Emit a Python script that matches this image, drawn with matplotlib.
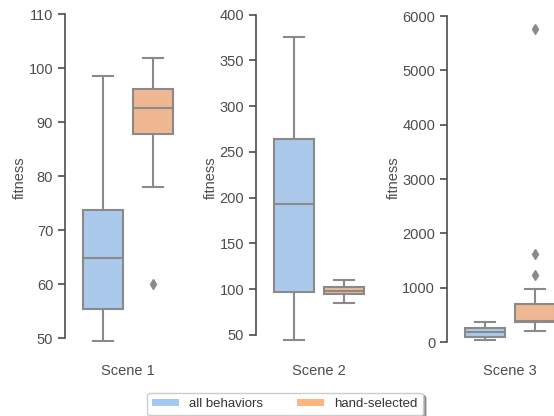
import matplotlib
matplotlib.use('Agg')
import matplotlib.pyplot as plt
from matplotlib.patches import Patch
import seaborn as sns

# box summary stats: (whislo, q1, med, q3, whishi, fliers)
scenes = ['Scene 1', 'Scene 2', 'Scene 3']
groups = ['all behaviors', 'hand-selected']

all_behaviors = [
    (49.4, 55.3, 64.9, 73.7, 98.5, []),
    (44.2, 97.3, 193.0, 264.5, 375.2, []),
    (42, 92, 178, 263, 374, []),
]
hand_selected = [
    (78.0, 87.7, 92.6, 96.2, 101.8, [60.0]),
    (85.3, 94.4, 98.3, 102.0, 110.3, []),
    (208, 362, 386, 694, 975, [1233, 1620, 5754]),
]

ylims = [(49.26, 110), (42.35, 400.7), (0, 6037)]
yticks = [[50, 60, 70, 80, 90, 100, 110],
          [50, 100, 150, 200, 250, 300, 350, 400],
          [0, 1000, 2000, 3000, 4000, 5000, 6000]]

pal = sns.color_palette('pastel')
colors = [pal[0], pal[1]]
box_colors = [sns.desaturate(c, 0.75) for c in colors]
gray = '#8a8a8a'

plt.rcParams['font.family'] = ['Liberation Sans', 'DejaVu Sans']
plt.rcParams['font.size'] = 10.5

fig = plt.figure(figsize=(5.54, 4.16), dpi=100)
W, H = 554, 416
lefts = [65, 256, 447]

for i, scene in enumerate(scenes):
    ax = fig.add_axes([lefts[i] / W, (H - 342) / H, 125 / W, 328 / H])
    for j, data in enumerate([all_behaviors[i], hand_selected[i]]):
        lo, q1, med, q3, hi, fl = data
        stats = [dict(whislo=lo, q1=q1, med=med, q3=q3, whishi=hi, fliers=fl)]
        ax.bxp(stats, positions=[-0.2 + 0.4 * j], widths=0.32, patch_artist=True,
               boxprops=dict(facecolor=box_colors[j], edgecolor=gray, linewidth=1.5),
               medianprops=dict(color=gray, linewidth=1.5),
               whiskerprops=dict(color=gray, linewidth=1.5),
               capprops=dict(color=gray, linewidth=1.5),
               flierprops=dict(marker='d', markerfacecolor=gray, markeredgecolor=gray,
                               markersize=5))
    ax.set_xlim(-0.5, 0.5)
    ax.set_ylim(*ylims[i])
    ax.set_yticks(yticks[i])
    ax.set_xticks([0])
    ax.set_xticklabels([scene])
    ax.set_ylabel('fitness', color='.3', labelpad=1)
    ax.tick_params(axis='x', length=0, pad=16, colors='.3')
    ax.tick_params(axis='y', length=5, width=1.2, colors='.3', labelcolor='.3')
    for s in ['top', 'right', 'bottom']:
        ax.spines[s].set_visible(False)
    ax.spines['left'].set_bounds(yticks[i][0], yticks[i][-1])
    ax.spines['left'].set_color('.3')
    ax.spines['left'].set_linewidth(1.2)
    ax.patch.set_alpha(0)

handles = [Patch(facecolor=colors[k], edgecolor='none', label=groups[k]) for k in range(2)]
fig.legend(handles=handles, loc='center', bbox_to_anchor=(285 / W, 1 - 404 / H),
           ncol=2, shadow=True, fontsize=9.5, columnspacing=2.6, handleheight=0.5,
           edgecolor='.8', framealpha=1, labelcolor='.2')

fig.savefig('out.png', dpi=100)
